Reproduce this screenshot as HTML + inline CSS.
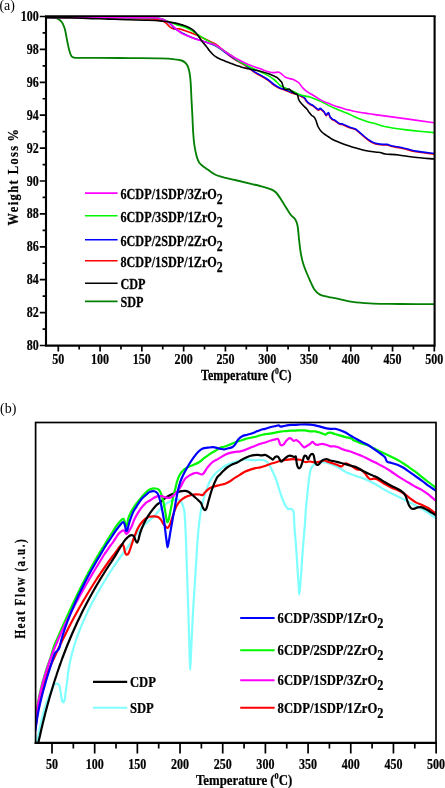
<!DOCTYPE html>
<html><head><meta charset="utf-8"><style>
html,body{margin:0;padding:0;background:#fff;}
body{width:445px;height:788px;overflow:hidden;font-family:"Liberation Serif",serif;}
svg{display:block;will-change:transform;}
</style></head><body>
<svg width="445" height="788" viewBox="0 0 445 788">

<clipPath id="ca"><rect x="46.0" y="16.5" width="388.6" height="329.1"/></clipPath>
<clipPath id="cb"><rect x="35.6" y="422.5" width="400.4" height="320.4"/></clipPath>
<g clip-path="url(#ca)">
<path d="M46.5,17.4 C47.4,17.4 50.5,17.4 52.0,17.5 C53.5,17.6 54.6,17.8 55.8,18.1 C57.0,18.4 58.1,18.8 59.0,19.4 C59.9,20.0 60.6,20.6 61.3,21.5 C62.0,22.4 62.6,23.1 63.2,24.6 C63.9,26.1 64.5,27.7 65.2,30.5 C65.9,33.3 66.6,38.2 67.3,41.5 C68.0,44.8 68.6,48.0 69.3,50.5 C70.0,53.0 70.7,55.1 71.5,56.3 C72.3,57.5 72.6,57.4 74.0,57.6 C75.4,57.9 75.7,57.8 80.0,57.8 C84.3,57.8 91.7,57.8 100.0,57.9 C108.3,58.0 120.0,58.0 130.0,58.1 C140.0,58.2 152.5,58.2 160.0,58.4 C167.5,58.6 171.4,58.9 175.0,59.3 C178.6,59.6 179.8,59.9 181.6,60.5 C183.4,61.1 184.6,62.1 185.7,63.2 C186.8,64.4 187.5,65.5 188.2,67.4 C188.9,69.3 189.5,72.2 189.9,74.8 C190.3,77.4 190.4,79.0 190.7,83.1 C191.0,87.2 191.2,94.1 191.5,99.6 C191.8,105.1 192.1,110.6 192.4,116.1 C192.7,121.6 192.8,127.6 193.2,132.6 C193.5,137.6 193.9,142.0 194.5,145.9 C195.1,149.8 195.8,153.1 196.5,155.8 C197.2,158.5 198.0,160.5 199.0,162.2 C200.0,163.8 200.8,164.4 202.3,165.7 C203.8,167.0 206.0,168.3 208.1,169.8 C210.2,171.3 212.7,173.3 215.0,174.5 C217.3,175.7 218.2,175.8 221.9,176.8 C225.6,177.8 232.4,179.4 237.1,180.5 C241.8,181.6 246.2,182.7 250.0,183.6 C253.8,184.5 256.9,185.2 260.0,186.0 C263.1,186.8 266.2,187.5 268.9,188.6 C271.6,189.7 273.5,190.0 276.0,192.5 C278.5,195.0 281.3,200.0 283.7,203.7 C286.1,207.4 288.6,211.9 290.5,214.5 C292.4,217.1 294.1,217.6 295.3,219.5 C296.5,221.4 297.0,222.6 297.6,226.0 C298.2,229.4 298.6,235.7 299.1,240.0 C299.6,244.3 300.0,248.2 300.6,252.0 C301.2,255.8 301.8,259.0 303.0,263.0 C304.2,267.0 306.1,271.6 308.0,276.0 C309.9,280.4 312.2,286.1 314.2,289.2 C316.2,292.3 317.7,293.3 320.0,294.6 C322.3,295.9 325.3,296.2 328.0,296.8 C330.7,297.4 332.2,297.6 336.3,298.4 C340.4,299.2 346.9,301.0 352.5,301.8 C358.1,302.6 364.6,303.0 370.0,303.3 C375.4,303.6 380.0,303.7 385.0,303.8 C390.0,303.9 391.8,303.9 400.0,304.0 C408.2,304.1 428.3,304.1 434.0,304.1" stroke="#048004" stroke-width="1.85" fill="none" stroke-linejoin="round" stroke-linecap="round"/>
<path d="M46.5,17.5 C52.1,17.6 69.4,17.7 80.0,17.8 C90.6,17.9 101.7,18.2 110.0,18.3 C118.3,18.4 123.7,18.6 130.0,18.7 C136.3,18.8 143.8,18.9 148.0,19.0 C152.2,19.1 152.7,19.0 155.0,19.2 C157.3,19.4 159.9,19.8 161.7,20.4 C163.5,21.0 164.5,21.7 165.8,22.8 C167.2,23.9 168.5,25.8 169.8,26.8 C171.2,27.8 172.3,28.5 173.9,28.9 C175.5,29.2 177.3,28.6 179.3,28.9 C181.3,29.2 183.8,30.1 186.0,30.9 C188.2,31.7 190.8,32.8 192.8,33.6 C194.8,34.4 196.3,34.8 198.1,35.6 C199.9,36.4 201.2,37.2 203.5,38.3 C205.8,39.4 209.5,41.3 211.6,42.3 C213.7,43.3 214.3,43.3 216.0,44.5 C217.7,45.7 219.7,47.3 222.0,49.3 C224.3,51.2 227.6,54.3 230.0,56.2 C232.4,58.1 234.0,59.1 236.5,60.6 C239.0,62.1 242.1,63.4 245.0,65.3 C247.9,67.2 250.2,69.6 253.8,71.9 C257.4,74.2 262.9,76.9 266.3,79.1 C269.7,81.3 271.7,83.5 274.0,85.1 C276.3,86.7 278.2,87.8 280.0,88.6 C281.8,89.4 283.0,89.5 284.5,90.0 C286.0,90.5 287.5,91.2 289.0,91.8 C290.5,92.4 292.0,93.1 293.5,93.6 C295.0,94.1 296.6,94.4 298.0,94.9 C299.4,95.4 300.6,96.2 301.6,96.7 C302.7,97.2 303.6,97.5 304.3,98.2 C305.1,98.9 305.5,100.0 306.1,100.8 C306.7,101.6 307.1,102.3 307.9,103.0 C308.6,103.7 309.7,104.3 310.6,104.8 C311.5,105.3 312.6,105.7 313.3,106.2 C314.0,106.7 314.4,107.1 315.0,107.6 C315.6,108.1 316.4,108.9 317.0,109.3 C317.6,109.7 318.0,110.2 318.5,110.2 C319.0,110.2 319.5,109.0 320.1,109.0 C320.7,109.0 321.4,109.9 322.1,110.4 C322.8,111.0 323.4,111.4 324.1,112.3 C324.8,113.2 325.5,115.3 326.1,115.6 C326.7,115.8 327.2,114.1 327.6,113.8 C328.0,113.5 328.3,112.9 328.7,113.5 C329.1,114.1 329.5,116.5 330.2,117.6 C330.9,118.7 331.9,119.3 332.7,119.9 C333.5,120.5 334.3,120.4 335.2,121.0 C336.1,121.6 337.4,122.8 338.3,123.4 C339.2,124.0 339.6,124.2 340.3,124.4 C341.0,124.6 341.5,124.2 342.3,124.5 C343.1,124.8 344.0,125.3 345.3,125.9 C346.6,126.5 348.8,127.4 350.4,128.0 C352.0,128.6 353.6,128.7 355.0,129.4 C356.4,130.1 357.6,131.3 359.0,132.4 C360.4,133.5 361.6,134.6 363.1,135.9 C364.6,137.2 366.4,138.8 368.1,140.0 C369.8,141.2 371.5,142.2 373.2,143.0 C374.9,143.8 376.6,144.2 378.3,144.5 C380.0,144.8 381.8,144.9 383.3,145.0 C384.8,145.1 386.2,144.8 387.4,145.0 C388.6,145.2 389.1,145.7 390.4,146.0 C391.7,146.3 393.8,146.8 395.4,147.1 C397.0,147.4 398.1,147.5 400.0,147.9 C401.9,148.3 403.9,148.8 406.5,149.4 C409.1,150.0 411.3,150.9 415.9,151.7 C420.5,152.5 431.0,153.7 434.0,154.1" stroke="#ff0000" stroke-width="1.6" fill="none" stroke-linejoin="round" stroke-linecap="round"/>
<path d="M46.5,17.5 C55.4,17.5 82.8,17.6 100.0,17.6 C117.2,17.6 140.0,17.5 150.0,17.6 C160.0,17.8 157.2,17.9 160.0,18.5 C162.8,19.1 165.2,20.3 167.1,21.4 C169.0,22.4 169.8,23.6 171.2,24.8 C172.5,26.1 173.4,27.5 175.2,28.9 C177.0,30.2 179.8,31.7 182.0,32.9 C184.2,34.1 186.5,35.2 188.7,36.2 C190.9,37.2 193.2,38.0 195.4,38.8 C197.7,39.6 199.9,40.3 202.2,41.0 C204.4,41.7 206.8,42.4 208.9,43.2 C211.0,44.0 212.8,44.5 215.0,45.6 C217.2,46.7 219.5,48.3 222.0,50.0 C224.5,51.7 227.6,53.9 230.0,55.6 C232.4,57.3 234.0,58.5 236.5,60.0 C239.0,61.5 242.1,62.8 245.0,64.7 C247.9,66.6 250.2,69.0 253.8,71.3 C257.4,73.6 262.9,76.3 266.3,78.5 C269.7,80.7 271.7,82.9 274.0,84.5 C276.3,86.1 278.2,87.2 280.0,88.0 C281.8,88.8 283.0,88.9 284.5,89.4 C286.0,89.9 287.5,90.6 289.0,91.2 C290.5,91.8 292.0,92.5 293.5,93.0 C295.0,93.5 296.6,93.8 298.0,94.3 C299.4,94.8 300.6,95.5 301.6,96.1 C302.7,96.6 303.6,96.9 304.3,97.6 C305.1,98.3 305.5,99.4 306.1,100.2 C306.7,101.0 307.1,101.7 307.9,102.4 C308.6,103.1 309.7,103.7 310.6,104.2 C311.5,104.7 312.6,105.1 313.3,105.6 C314.0,106.1 314.4,106.5 315.0,107.0 C315.6,107.5 316.4,108.3 317.0,108.7 C317.6,109.1 318.0,109.6 318.5,109.6 C319.0,109.5 319.5,108.4 320.1,108.4 C320.7,108.4 321.4,109.2 322.1,109.8 C322.8,110.3 323.4,110.8 324.1,111.7 C324.8,112.6 325.5,114.8 326.1,115.0 C326.7,115.2 327.2,113.5 327.6,113.2 C328.0,112.9 328.3,112.3 328.7,112.9 C329.1,113.5 329.5,115.9 330.2,117.0 C330.9,118.1 331.9,118.7 332.7,119.3 C333.5,119.9 334.3,119.8 335.2,120.4 C336.1,121.0 337.4,122.2 338.3,122.8 C339.2,123.4 339.6,123.6 340.3,123.8 C341.0,124.0 341.5,123.7 342.3,123.9 C343.1,124.2 344.0,124.7 345.3,125.3 C346.6,125.9 348.8,126.8 350.4,127.4 C352.0,128.0 353.6,128.1 355.0,128.8 C356.4,129.5 357.6,130.7 359.0,131.8 C360.4,132.9 361.6,134.0 363.1,135.3 C364.6,136.6 366.4,138.2 368.1,139.4 C369.8,140.6 371.5,141.7 373.2,142.4 C374.9,143.2 376.6,143.6 378.3,143.9 C380.0,144.2 381.8,144.3 383.3,144.4 C384.8,144.5 386.2,144.2 387.4,144.4 C388.6,144.6 389.1,145.1 390.4,145.4 C391.7,145.8 393.8,146.2 395.4,146.5 C397.0,146.8 398.1,146.9 400.0,147.3 C401.9,147.7 403.9,148.2 406.5,148.8 C409.1,149.4 411.3,150.3 415.9,151.1 C420.5,151.9 431.0,153.1 434.0,153.5" stroke="#0000ff" stroke-width="1.6" fill="none" stroke-linejoin="round" stroke-linecap="round"/>
<path d="M46.5,17.5 C55.4,17.5 82.8,17.6 100.0,17.6 C117.2,17.6 140.8,17.6 150.0,17.6 C159.2,17.6 152.8,17.4 155.0,17.7 C157.2,18.0 160.4,18.5 163.1,19.4 C165.8,20.2 168.5,21.8 171.2,22.8 C173.9,23.8 176.6,24.6 179.3,25.5 C182.0,26.4 184.9,27.1 187.4,28.2 C189.9,29.3 192.1,31.0 194.1,32.2 C196.1,33.4 197.7,34.5 199.5,35.6 C201.3,36.7 202.9,37.8 204.9,39.0 C206.9,40.2 209.8,41.9 211.6,43.0 C213.4,44.1 214.3,44.4 216.0,45.5 C217.7,46.6 219.7,48.0 222.0,49.5 C224.3,51.0 227.1,52.6 230.0,54.6 C232.9,56.6 235.4,59.2 239.4,61.6 C243.4,64.0 249.3,66.6 253.8,68.8 C258.3,71.0 262.9,72.8 266.3,74.6 C269.7,76.4 271.7,77.7 274.0,79.5 C276.3,81.3 278.6,84.1 280.0,85.3 C281.4,86.5 281.6,86.2 282.7,86.7 C283.8,87.2 285.1,87.9 286.3,88.5 C287.5,89.1 288.7,89.8 289.9,90.3 C291.1,90.8 292.1,91.0 293.5,91.6 C294.9,92.2 296.6,93.3 298.0,93.9 C299.4,94.5 300.4,94.8 301.6,95.2 C302.8,95.6 303.9,95.8 305.2,96.1 C306.5,96.4 308.1,96.5 309.7,97.0 C311.3,97.5 313.3,98.3 315.0,99.0 C316.7,99.7 318.4,100.3 320.1,101.1 C321.8,101.9 323.8,102.9 325.1,103.6 C326.4,104.3 326.8,104.4 328.1,105.1 C329.5,105.8 331.5,106.8 333.2,107.6 C334.9,108.4 336.6,109.0 338.3,109.7 C340.0,110.4 341.6,111.0 343.3,111.7 C345.0,112.4 346.7,113.0 348.4,113.7 C350.1,114.5 351.8,115.5 353.4,116.2 C355.0,117.0 355.6,117.3 357.9,118.2 C360.1,119.1 363.8,120.5 366.9,121.4 C370.0,122.4 373.6,123.1 376.5,123.9 C379.4,124.8 379.4,125.5 384.4,126.5 C389.4,127.5 400.2,129.1 406.5,129.9 C412.8,130.7 417.6,131.1 422.2,131.5 C426.8,131.9 432.0,132.4 434.0,132.6" stroke="#00f800" stroke-width="1.6" fill="none" stroke-linejoin="round" stroke-linecap="round"/>
<path d="M46.5,17.5 C55.4,17.5 82.8,17.6 100.0,17.6 C117.2,17.6 140.8,17.6 150.0,17.6 C159.2,17.6 152.8,17.5 155.0,17.8 C157.2,18.1 160.8,18.7 163.1,19.4 C165.3,20.1 166.9,21.1 168.5,22.1 C170.1,23.1 171.2,24.3 172.5,25.5 C173.8,26.7 175.0,28.1 176.6,29.5 C178.2,30.9 180.0,32.5 182.0,33.6 C184.0,34.7 186.5,35.4 188.7,36.3 C190.9,37.2 193.2,38.2 195.4,39.0 C197.7,39.8 199.9,40.3 202.2,41.0 C204.4,41.7 206.8,42.4 208.9,43.0 C211.0,43.6 212.8,43.8 215.0,44.8 C217.2,45.8 220.3,48.1 222.0,49.2 C223.7,50.3 222.7,49.9 225.0,51.4 C227.3,52.9 232.2,56.2 235.8,58.3 C239.4,60.3 242.4,61.9 246.6,63.7 C250.8,65.5 256.8,67.6 261.0,69.1 C265.2,70.6 268.7,72.0 271.7,72.5 C274.7,73.0 277.1,71.8 278.9,72.2 C280.7,72.6 281.3,73.9 282.5,74.8 C283.7,75.7 284.3,76.8 286.1,77.6 C287.9,78.4 291.3,78.8 293.3,79.6 C295.3,80.4 296.9,81.5 298.0,82.2 C299.1,82.9 299.1,83.1 299.8,84.0 C300.6,84.9 301.3,86.3 302.5,87.6 C303.7,88.9 305.5,90.5 307.0,91.6 C308.5,92.7 310.0,93.4 311.5,94.3 C313.0,95.2 314.6,96.1 316.0,97.0 C317.4,97.9 318.6,98.8 320.1,99.6 C321.6,100.4 323.4,101.3 325.1,102.1 C326.8,102.8 328.5,103.4 330.2,104.1 C331.9,104.8 333.5,105.5 335.2,106.1 C336.9,106.7 338.6,107.1 340.3,107.6 C342.0,108.1 343.6,108.8 345.3,109.2 C347.0,109.7 348.7,109.9 350.4,110.3 C352.1,110.7 352.6,111.0 355.4,111.5 C358.1,112.0 363.6,112.9 366.9,113.4 C370.2,113.9 368.4,113.7 375.0,114.6 C381.6,115.5 396.7,117.5 406.5,118.9 C416.3,120.3 429.4,122.2 434.0,122.8" stroke="#ff00ff" stroke-width="1.6" fill="none" stroke-linejoin="round" stroke-linecap="round"/>
<path d="M46.5,17.4 C50.4,17.5 61.1,17.6 70.0,17.8 C78.9,18.0 92.5,18.6 100.0,18.8 C107.5,19.1 110.0,19.1 115.0,19.3 C120.0,19.5 125.0,19.7 130.0,19.8 C135.0,19.9 140.8,20.1 145.0,20.2 C149.2,20.3 152.0,20.3 155.0,20.5 C158.0,20.7 160.4,21.0 163.1,21.3 C165.8,21.6 168.5,21.9 171.2,22.4 C173.9,22.9 176.8,23.5 179.3,24.1 C181.8,24.7 184.0,25.4 186.0,26.2 C188.0,27.0 189.8,27.9 191.4,28.9 C193.0,29.9 194.1,30.8 195.4,32.2 C196.8,33.7 198.2,35.8 199.5,37.6 C200.8,39.4 202.0,41.2 203.2,42.8 C204.4,44.3 205.8,45.6 206.8,46.9 C207.9,48.2 208.3,49.4 209.5,50.8 C210.7,52.2 212.5,54.2 214.0,55.5 C215.5,56.8 217.0,57.5 218.5,58.3 C220.0,59.1 221.5,59.7 223.0,60.3 C224.5,60.9 226.0,61.4 227.5,62.0 C229.0,62.6 230.5,63.2 232.0,63.8 C233.5,64.4 235.0,65.0 236.5,65.5 C238.0,66.0 239.0,66.4 241.0,66.9 C243.0,67.5 245.1,68.0 248.4,68.8 C251.7,69.6 257.4,70.6 261.0,71.5 C264.6,72.4 267.4,73.2 270.0,74.2 C272.6,75.2 274.8,76.3 276.5,77.3 C278.2,78.3 279.1,79.6 280.0,80.4 C280.9,81.2 281.3,81.4 281.8,82.4 C282.3,83.4 282.7,85.4 283.1,86.5 C283.6,87.6 283.8,88.7 284.5,89.2 C285.2,89.7 286.4,89.4 287.2,89.4 C287.9,89.4 288.2,88.7 289.0,89.0 C289.8,89.3 290.8,90.5 291.7,91.2 C292.6,91.9 293.5,92.8 294.4,93.3 C295.3,93.8 296.5,93.9 297.1,94.4 C297.7,95.0 297.7,95.7 298.0,96.6 C298.3,97.5 298.3,98.8 298.9,100.0 C299.5,101.2 300.7,102.7 301.6,103.8 C302.5,104.9 303.4,105.6 304.3,106.5 C305.2,107.4 306.2,108.3 307.0,109.2 C307.8,110.1 308.1,110.9 308.8,111.9 C309.6,112.9 310.6,114.3 311.5,115.2 C312.4,116.1 313.4,116.3 314.2,117.2 C314.9,118.1 315.4,119.0 316.0,120.5 C316.6,122.0 317.1,124.7 318.0,126.5 C318.9,128.3 320.1,130.0 321.1,131.2 C322.1,132.4 322.9,133.0 324.1,133.9 C325.3,134.8 326.8,135.6 328.1,136.5 C329.5,137.4 330.7,138.5 332.2,139.3 C333.7,140.1 335.3,140.7 337.2,141.5 C339.1,142.3 341.3,143.2 343.3,144.0 C345.3,144.8 347.4,145.5 349.4,146.1 C351.3,146.7 352.4,147.1 355.0,147.8 C357.6,148.5 361.7,149.8 365.1,150.5 C368.5,151.2 372.7,151.7 375.2,152.0 C377.7,152.3 378.6,152.2 380.3,152.5 C382.0,152.8 382.2,153.6 385.3,154.0 C388.4,154.4 393.8,154.4 398.6,155.0 C403.4,155.6 408.4,156.6 414.3,157.3 C420.2,158.0 430.7,158.7 434.0,159.0" stroke="#000000" stroke-width="1.6" fill="none" stroke-linejoin="round" stroke-linecap="round"/>
</g>
<path d="M46.0,16.0 V345.6 H434.6 V16.0" stroke="#000" stroke-width="2.1" fill="none" stroke-linejoin="miter"/>
<path d="M45.0,16.1 H435.6" stroke="#000" stroke-width="1.7" fill="none"/>
<path d="M39.8,345.50 H46.0 M42.6,329.05 H46.0 M39.8,312.60 H46.0 M42.6,296.15 H46.0 M39.8,279.70 H46.0 M42.6,263.25 H46.0 M39.8,246.80 H46.0 M42.6,230.35 H46.0 M39.8,213.90 H46.0 M42.6,197.45 H46.0 M39.8,181.00 H46.0 M42.6,164.55 H46.0 M39.8,148.10 H46.0 M42.6,131.65 H46.0 M39.8,115.20 H46.0 M42.6,98.75 H46.0 M39.8,82.30 H46.0 M42.6,65.85 H46.0 M39.8,49.40 H46.0 M42.6,32.95 H46.0 M39.8,16.50 H46.0 M58.30,345.6 V351.6 M79.19,345.6 V349.4 M100.08,345.6 V351.6 M120.97,345.6 V349.4 M141.86,345.6 V351.6 M162.75,345.6 V349.4 M183.64,345.6 V351.6 M204.53,345.6 V349.4 M225.42,345.6 V351.6 M246.31,345.6 V349.4 M267.20,345.6 V351.6 M288.09,345.6 V349.4 M308.98,345.6 V351.6 M329.87,345.6 V349.4 M350.76,345.6 V351.6 M371.65,345.6 V349.4 M392.54,345.6 V351.6 M413.43,345.6 V349.4 M434.32,345.6 V351.6" stroke="#000" stroke-width="1.7" fill="none"/>
<g clip-path="url(#cb)">
<path d="M36.7,743.1 C36.9,741.9 37.7,738.2 38.1,736.0 C38.6,733.8 38.9,732.0 39.4,730.0 C39.8,728.0 40.2,726.0 40.7,724.0 C41.1,722.0 41.6,720.0 42.1,718.0 C42.6,716.0 43.1,714.0 43.6,712.0 C44.2,710.0 44.8,708.0 45.4,706.0 C46.0,704.0 46.7,702.0 47.5,700.0 C48.2,698.0 49.0,696.0 49.9,694.0 C50.7,692.0 52.1,689.4 52.7,688.0 C53.3,686.6 53.2,686.1 53.6,685.5 C54.0,684.9 54.4,684.6 55.0,684.3 C55.6,684.0 56.5,683.3 57.2,683.5 C57.9,683.7 58.8,684.1 59.3,685.3 C59.8,686.5 60.0,688.5 60.4,690.5 C60.8,692.5 61.1,695.7 61.4,697.5 C61.7,699.3 62.0,700.4 62.3,701.2 C62.6,702.0 62.9,702.5 63.3,702.4 C63.6,702.3 64.1,702.0 64.4,700.8 C64.7,699.6 65.0,697.1 65.3,695.0 C65.6,692.9 65.9,690.2 66.2,688.0 C66.5,685.8 66.9,684.0 67.1,682.0 C67.4,680.0 67.5,678.0 67.7,676.0 C67.9,674.0 68.2,672.0 68.5,670.0 C68.8,668.0 69.2,666.0 69.6,664.0 C70.0,662.0 70.4,660.0 70.9,658.0 C71.3,656.0 71.9,654.0 72.4,652.0 C72.9,650.0 73.5,648.0 74.1,646.0 C74.7,644.0 75.4,642.0 76.0,640.0 C76.7,638.0 77.4,636.0 78.2,634.0 C78.9,632.0 79.7,630.0 80.5,628.0 C81.3,626.0 82.1,624.0 83.0,622.0 C83.9,620.0 84.7,618.0 85.7,616.0 C86.6,614.0 87.5,612.0 88.5,610.0 C89.5,608.0 90.5,606.0 91.5,604.0 C92.6,602.0 93.6,600.0 94.7,598.0 C95.8,596.0 96.9,594.0 98.1,592.0 C99.2,590.0 100.4,588.0 101.5,586.0 C102.7,584.0 103.9,582.0 105.2,580.0 C106.4,578.0 107.6,576.0 108.9,574.0 C110.2,572.0 111.5,570.0 112.8,568.0 C114.1,566.0 114.3,565.4 116.8,562.0 C119.2,558.6 124.7,551.1 127.4,547.5 C130.1,543.9 131.1,542.8 132.8,540.3 C134.5,537.8 136.0,534.9 137.5,532.8 C139.0,530.6 140.5,529.0 142.0,527.4 C143.5,525.8 145.0,524.3 146.5,522.9 C148.0,521.5 149.7,520.1 151.0,519.0 C152.3,517.9 153.2,517.4 154.5,516.0 C155.8,514.6 157.5,512.2 159.0,510.6 C160.5,509.0 162.0,507.5 163.5,506.1 C165.0,504.8 166.5,503.5 168.0,502.5 C169.5,501.5 171.0,500.7 172.5,500.2 C174.0,499.7 175.8,499.3 177.0,499.3 C178.2,499.3 179.0,499.4 179.8,500.0 C180.6,500.6 181.4,501.9 182.0,503.2 C182.6,504.5 183.2,506.2 183.6,508.0 C184.0,509.8 184.2,509.1 184.6,514.1 C185.0,519.1 185.5,528.2 185.9,538.3 C186.3,548.4 186.7,562.4 187.1,574.5 C187.5,586.6 187.9,598.6 188.3,610.7 C188.7,622.8 189.1,637.0 189.4,646.9 C189.7,656.8 189.9,670.0 190.2,670.0 C190.5,670.0 190.8,656.8 191.3,646.9 C191.8,637.0 192.4,622.8 193.1,610.7 C193.8,598.6 194.6,586.6 195.4,574.5 C196.2,562.4 197.0,547.0 197.7,538.3 C198.3,529.5 198.8,526.3 199.3,522.0 C199.8,517.7 200.1,515.7 200.6,512.5 C201.1,509.3 201.8,506.1 202.5,503.0 C203.2,499.9 203.9,497.6 205.1,494.0 C206.3,490.4 208.0,484.8 209.7,481.4 C211.4,478.0 213.5,475.5 215.4,473.4 C217.3,471.3 219.7,469.9 221.1,468.8 C222.5,467.7 222.7,467.3 224.0,466.5 C225.3,465.7 227.2,464.8 229.1,464.0 C231.0,463.2 233.3,462.6 235.2,462.0 C237.0,461.4 238.5,460.9 240.2,460.5 C241.9,460.1 243.6,459.6 245.3,459.5 C247.0,459.4 248.6,459.7 250.3,459.8 C252.0,459.9 253.8,460.3 255.4,460.3 C257.1,460.3 258.8,459.8 260.2,459.8 C261.6,459.8 262.9,459.8 264.0,460.2 C265.1,460.6 266.1,461.0 267.1,462.0 C268.1,463.0 269.1,464.5 270.1,466.3 C271.1,468.1 272.1,470.4 273.1,472.6 C274.1,474.8 275.2,476.9 276.2,479.7 C277.2,482.4 278.1,486.0 279.1,489.1 C280.1,492.2 281.2,495.6 282.2,498.3 C283.2,501.0 284.2,503.4 285.2,505.2 C286.2,507.0 287.3,508.4 288.3,509.0 C289.3,509.6 290.4,508.5 291.3,509.0 C292.2,509.5 293.1,509.2 293.6,512.0 C294.1,514.8 294.1,520.9 294.4,525.7 C294.7,530.5 295.2,535.9 295.6,541.0 C296.0,546.1 296.4,551.1 296.7,556.2 C297.0,561.3 297.4,566.4 297.7,571.5 C298.0,576.6 298.4,582.9 298.7,586.7 C299.0,590.6 299.1,594.6 299.3,594.6 C299.6,594.6 299.9,590.6 300.2,586.7 C300.5,582.9 300.9,576.6 301.3,571.5 C301.7,566.4 301.9,561.3 302.3,556.2 C302.7,551.1 303.1,546.1 303.5,541.0 C303.9,535.9 304.4,530.8 304.8,525.7 C305.2,520.6 305.4,515.6 305.8,510.5 C306.2,505.4 306.8,499.9 307.3,495.2 C307.8,490.4 308.2,485.8 308.6,482.0 C309.1,478.2 309.6,474.8 310.0,472.5 C310.4,470.2 310.6,469.7 311.1,468.5 C311.6,467.3 312.2,466.4 313.1,465.5 C314.0,464.6 315.0,463.6 316.2,463.0 C317.4,462.4 318.7,462.1 320.2,462.0 C321.7,461.9 323.6,462.2 325.3,462.5 C327.0,462.8 328.6,463.4 330.3,464.0 C332.0,464.6 333.8,465.2 335.4,466.0 C337.0,466.8 338.5,467.5 340.2,468.5 C341.9,469.5 343.8,470.9 345.6,471.9 C347.4,472.8 349.3,473.4 351.2,474.2 C353.1,474.9 355.0,475.8 356.9,476.4 C358.8,477.0 360.6,477.4 362.5,478.1 C364.4,478.8 366.2,479.5 368.1,480.4 C370.0,481.2 371.8,482.2 373.7,483.2 C375.6,484.2 377.4,485.4 379.3,486.5 C381.2,487.6 383.0,488.9 385.0,490.0 C387.0,491.1 389.1,492.2 391.2,493.2 C393.3,494.2 395.3,495.2 397.4,496.2 C399.4,497.2 401.4,498.3 403.5,499.3 C405.6,500.3 407.6,501.4 409.7,502.4 C411.8,503.4 413.8,504.4 415.9,505.5 C418.0,506.6 420.0,508.0 422.1,509.2 C424.2,510.4 426.2,511.4 428.3,512.9 C430.4,514.4 433.6,516.9 435.0,517.9 C436.4,518.9 436.7,518.8 437.0,519.0" stroke="#80ffff" stroke-width="2.2" fill="none" stroke-linejoin="round" stroke-linecap="round"/>
<path d="M35.6,727.0 C35.8,725.8 36.2,722.8 36.6,720.0 C37.0,717.2 37.4,713.3 38.0,710.0 C38.6,706.7 39.3,703.3 40.0,700.0 C40.7,696.7 41.5,693.3 42.3,690.0 C43.1,686.7 44.0,682.8 44.8,680.0 C45.5,677.2 46.2,674.7 46.8,673.0 C47.4,671.3 47.9,671.5 48.7,670.0 C49.4,668.5 50.4,666.0 51.3,664.0 C52.2,662.0 53.1,660.0 54.1,658.0 C55.0,656.0 55.9,654.0 56.8,652.0 C57.8,650.0 58.7,648.0 59.6,646.0 C60.6,644.0 61.6,642.0 62.5,640.0 C63.5,638.0 64.5,636.0 65.5,634.0 C66.5,632.0 67.5,630.0 68.5,628.0 C69.5,626.0 70.6,624.0 71.6,622.0 C72.7,620.0 73.7,618.0 74.8,616.0 C75.9,614.0 77.0,612.0 78.1,610.0 C79.2,608.0 80.3,606.0 81.5,604.0 C82.6,602.0 83.8,600.0 85.0,598.0 C86.2,596.0 87.3,594.0 88.6,592.0 C89.8,590.0 91.0,588.0 92.3,586.0 C93.5,584.0 94.8,582.0 96.1,580.0 C97.4,578.0 98.7,576.0 100.1,574.0 C101.4,572.0 102.8,570.0 104.2,568.0 C105.6,566.0 107.0,564.0 108.4,562.0 C109.8,560.0 111.3,558.0 112.8,556.0 C114.3,554.0 116.4,551.3 117.3,550.0 C118.3,548.7 117.6,549.4 118.4,548.4 C119.2,547.4 121.1,544.6 122.0,544.3 C122.9,544.0 123.3,545.5 123.8,546.6 C124.2,547.7 124.3,549.8 124.7,551.1 C125.1,552.4 125.4,554.0 126.0,554.5 C126.6,555.0 127.6,554.7 128.3,553.8 C129.0,552.9 129.5,550.9 130.1,549.3 C130.7,547.6 131.3,545.7 131.9,543.9 C132.5,542.1 133.1,540.1 133.7,538.5 C134.2,536.9 134.6,535.9 135.2,534.5 C135.8,533.1 136.2,531.7 137.0,530.0 C137.8,528.3 138.9,526.1 140.2,524.3 C141.5,522.5 143.2,520.5 144.7,519.3 C146.2,518.0 147.6,517.3 149.2,516.8 C150.8,516.3 153.0,516.4 154.5,516.4 C156.0,516.4 157.0,516.4 158.1,516.9 C159.2,517.4 159.9,518.4 160.8,519.6 C161.7,520.8 162.6,522.7 163.5,524.0 C164.4,525.3 165.5,526.6 166.2,527.2 C166.9,527.8 167.2,528.2 167.8,527.8 C168.4,527.4 169.1,526.4 169.8,524.9 C170.5,523.4 171.2,520.9 172.0,518.7 C172.8,516.5 173.5,513.8 174.3,511.5 C175.1,509.2 175.9,507.0 177.0,505.2 C178.1,503.4 179.2,501.8 180.6,500.5 C181.9,499.2 183.7,498.0 185.1,497.2 C186.5,496.4 187.7,496.1 189.1,495.7 C190.5,495.2 192.0,494.7 193.7,494.5 C195.4,494.3 197.9,494.4 199.4,494.5 C200.9,494.6 201.9,495.5 202.8,495.1 C203.8,494.7 203.9,493.4 205.1,492.2 C206.2,491.0 208.2,489.1 209.7,488.2 C211.2,487.2 212.6,487.0 214.3,486.5 C216.0,486.0 218.2,485.5 220.0,485.0 C221.8,484.5 223.4,484.3 225.1,483.7 C226.8,483.1 228.4,482.2 230.1,481.2 C231.8,480.2 233.5,478.8 235.2,477.7 C236.9,476.6 238.5,475.6 240.2,474.6 C241.9,473.6 243.6,472.4 245.3,471.6 C247.0,470.8 248.6,470.2 250.3,469.6 C252.0,469.0 253.8,468.5 255.4,468.1 C257.1,467.7 258.6,467.8 260.2,467.4 C261.8,467.0 263.5,466.6 265.1,466.0 C266.8,465.4 268.4,464.6 270.1,464.0 C271.8,463.4 273.5,463.0 275.2,462.5 C276.9,462.0 278.5,461.4 280.2,461.0 C281.9,460.6 283.6,460.3 285.3,460.0 C287.0,459.7 288.6,459.4 290.3,459.3 C292.0,459.2 293.8,459.2 295.4,459.3 C297.0,459.4 298.6,459.4 300.2,459.8 C301.8,460.2 303.5,461.7 305.1,462.0 C306.8,462.3 308.4,461.4 310.1,461.5 C311.8,461.6 313.5,462.5 315.2,462.5 C316.9,462.5 318.7,461.8 320.2,461.5 C321.7,461.2 322.9,460.4 324.3,460.5 C325.7,460.6 326.8,461.5 328.3,462.0 C329.8,462.5 331.7,462.9 333.4,463.5 C335.1,464.1 337.0,465.0 338.4,465.5 C339.8,466.0 340.6,466.7 341.5,466.5 C342.4,466.3 343.0,464.8 343.9,464.3 C344.8,463.8 345.5,463.2 346.7,463.5 C347.9,463.8 349.9,465.1 351.2,465.8 C352.5,466.6 353.5,467.4 354.6,468.0 C355.7,468.6 356.9,469.4 358.0,469.7 C359.1,470.0 360.2,469.1 361.3,469.7 C362.4,470.3 363.6,471.8 364.7,473.1 C365.8,474.4 367.2,476.6 368.1,477.6 C369.0,478.6 369.4,479.0 370.3,479.2 C371.2,479.4 372.6,478.7 373.7,478.7 C374.8,478.7 375.8,478.6 377.1,479.2 C378.4,479.8 380.3,481.2 381.6,482.0 C382.9,482.8 383.4,483.2 385.0,484.1 C386.6,485.0 389.1,486.6 391.2,487.6 C393.3,488.6 395.3,489.2 397.4,490.1 C399.4,491.0 401.4,491.9 403.5,493.2 C405.6,494.5 407.6,496.6 409.7,498.1 C411.8,499.6 413.8,501.3 415.9,502.4 C418.0,503.5 420.0,504.0 422.1,504.9 C424.2,505.8 426.2,506.7 428.3,508.0 C430.4,509.3 433.6,511.9 435.0,512.9 C436.4,513.9 436.7,513.8 437.0,514.0" stroke="#ff0000" stroke-width="2.2" fill="none" stroke-linejoin="round" stroke-linecap="round"/>
<path d="M38.9,743.5 C38.8,743.2 38.4,743.2 38.5,742.0 C38.7,740.8 39.4,738.0 39.9,736.0 C40.3,734.0 40.8,732.0 41.2,730.0 C41.7,728.0 42.2,726.0 42.6,724.0 C43.1,722.0 43.6,720.0 44.1,718.0 C44.6,716.0 45.1,714.0 45.6,712.0 C46.2,710.0 46.7,708.0 47.2,706.0 C47.8,704.0 48.3,702.0 48.9,700.0 C49.4,698.0 50.0,696.0 50.6,694.0 C51.2,692.0 51.8,690.0 52.4,688.0 C53.0,686.0 53.6,684.0 54.2,682.0 C54.9,680.0 55.5,678.0 56.2,676.0 C56.8,674.0 57.5,672.0 58.2,670.0 C58.9,668.0 59.5,666.0 60.3,664.0 C61.0,662.0 61.7,660.0 62.4,658.0 C63.2,656.0 63.9,654.0 64.7,652.0 C65.5,650.0 66.2,648.0 67.0,646.0 C67.8,644.0 68.7,642.0 69.5,640.0 C70.3,638.0 71.2,636.0 72.0,634.0 C72.9,632.0 73.8,630.0 74.7,628.0 C75.6,626.0 76.5,624.0 77.4,622.0 C78.4,620.0 79.3,618.0 80.3,616.0 C81.2,614.0 82.2,612.0 83.2,610.0 C84.2,608.0 85.3,606.0 86.3,604.0 C87.4,602.0 88.4,600.0 89.5,598.0 C90.6,596.0 91.7,594.0 92.8,592.0 C93.9,590.0 95.1,588.0 96.2,586.0 C97.4,584.0 98.6,582.0 99.8,580.0 C101.0,578.0 102.2,576.0 103.5,574.0 C104.7,572.0 106.0,570.0 107.3,568.0 C108.6,566.0 110.0,563.9 111.3,562.0 C112.5,560.1 113.3,558.9 114.8,556.5 C116.3,554.1 118.5,550.2 120.2,547.5 C121.9,544.8 123.4,542.0 124.7,540.3 C126.0,538.5 127.1,537.8 128.0,537.0 C128.9,536.2 129.5,535.7 130.3,535.4 C131.1,535.1 132.3,535.1 133.0,535.4 C133.7,535.7 133.9,536.3 134.3,537.2 C134.8,538.1 135.2,539.9 135.7,540.8 C136.1,541.7 136.6,542.7 137.0,542.6 C137.4,542.5 137.9,541.6 138.4,540.0 C138.9,538.4 139.3,535.5 140.2,532.8 C141.1,530.1 142.5,526.6 143.8,523.8 C145.2,520.9 146.8,518.1 148.3,515.7 C149.8,513.3 151.4,511.2 152.8,509.4 C154.2,507.6 155.5,506.0 156.5,505.0 C157.5,504.0 157.8,504.1 159.0,503.2 C160.2,502.2 162.0,500.5 163.5,499.3 C165.0,498.1 166.5,497.1 168.0,496.2 C169.5,495.3 171.0,494.6 172.5,493.9 C174.0,493.2 175.5,492.6 177.0,492.1 C178.5,491.6 180.1,491.3 181.5,491.1 C182.9,490.9 184.2,490.7 185.5,490.9 C186.8,491.1 187.7,491.3 189.1,492.2 C190.5,493.1 192.2,494.9 193.7,496.2 C195.2,497.5 197.1,499.0 198.3,500.2 C199.5,501.4 200.3,501.9 201.1,503.1 C201.8,504.3 202.2,506.4 202.8,507.5 C203.4,508.6 204.0,509.8 204.6,510.0 C205.2,510.2 205.6,510.3 206.3,508.8 C207.0,507.3 207.7,504.0 208.6,500.8 C209.5,497.6 210.7,493.1 212.0,489.4 C213.3,485.7 215.2,481.0 216.5,478.5 C217.8,476.0 218.9,475.7 220.0,474.5 C221.1,473.3 221.8,472.5 223.0,471.3 C224.2,470.1 225.6,468.6 227.1,467.5 C228.6,466.4 230.4,465.3 232.1,464.5 C233.8,463.7 235.5,463.3 237.2,462.5 C238.9,461.7 240.5,460.4 242.2,459.5 C243.9,458.6 245.6,457.6 247.3,456.9 C249.0,456.2 250.7,455.7 252.4,455.4 C254.1,455.1 255.9,454.9 257.4,454.9 C258.9,454.9 260.2,455.4 261.5,455.4 C262.8,455.4 264.0,454.7 265.1,454.9 C266.2,455.1 267.1,455.8 268.1,456.4 C269.1,457.0 270.3,457.9 271.1,458.4 C271.9,458.9 272.4,459.8 273.1,459.5 C273.8,459.2 274.4,457.3 275.2,456.9 C276.0,456.5 277.4,456.3 278.2,456.9 C279.0,457.5 279.6,459.7 280.2,460.5 C280.8,461.3 281.0,461.8 281.7,461.5 C282.4,461.2 283.2,459.9 284.3,459.0 C285.4,458.1 287.1,456.4 288.3,455.9 C289.5,455.4 290.3,455.7 291.3,455.9 C292.3,456.1 293.6,456.8 294.4,456.9 C295.2,457.0 295.5,455.6 295.9,456.8 C296.3,458.0 296.5,462.4 296.9,464.3 C297.3,466.2 297.8,467.5 298.4,468.0 C299.0,468.5 299.8,468.4 300.4,467.5 C301.0,466.6 301.7,464.3 302.3,462.5 C302.9,460.7 303.4,457.7 304.0,456.6 C304.6,455.5 305.4,455.4 306.1,455.9 C306.8,456.4 307.4,459.6 308.1,459.5 C308.8,459.4 309.4,456.3 310.1,455.4 C310.8,454.5 311.5,453.9 312.1,453.9 C312.7,453.9 313.3,454.3 313.7,455.4 C314.1,456.5 314.4,459.1 314.7,460.5 C315.0,461.9 315.3,462.8 315.7,463.5 C316.1,464.2 316.6,464.9 317.2,465.0 C317.8,465.1 318.4,464.8 319.2,464.0 C320.0,463.2 321.0,461.3 322.2,460.5 C323.4,459.7 324.9,459.0 326.3,459.0 C327.7,459.0 328.8,460.1 330.3,460.5 C331.8,460.9 333.8,461.1 335.4,461.5 C337.0,461.9 338.5,462.3 340.2,462.7 C341.9,463.1 343.8,463.6 345.6,464.1 C347.4,464.6 349.3,465.2 351.2,465.8 C353.1,466.4 355.0,466.6 356.9,467.4 C358.8,468.2 360.6,469.8 362.5,470.8 C364.4,471.8 366.2,472.8 368.1,473.6 C370.0,474.5 371.8,475.0 373.7,475.9 C375.6,476.8 377.4,477.6 379.3,478.7 C381.2,479.8 383.0,481.1 385.0,482.3 C387.0,483.5 389.1,484.6 391.2,485.7 C393.3,486.8 395.5,487.8 397.4,488.8 C399.2,489.8 401.0,490.8 402.3,491.9 C403.6,493.0 404.6,494.2 405.4,495.6 C406.2,497.1 406.6,499.0 407.2,500.6 C407.8,502.2 408.4,504.2 409.1,505.5 C409.8,506.8 410.7,508.1 411.6,508.6 C412.5,509.1 413.7,508.8 414.7,508.6 C415.7,508.4 416.6,507.6 417.8,507.4 C419.0,507.2 420.6,507.0 422.1,507.4 C423.6,507.8 425.4,508.9 427.0,509.8 C428.6,510.7 430.7,512.1 432.0,512.9 C433.3,513.7 434.2,514.3 435.0,514.8 C435.8,515.3 436.7,515.8 437.0,516.0" stroke="#000000" stroke-width="2.2" fill="none" stroke-linejoin="round" stroke-linecap="round"/>
<path d="M35.8,718.0 C35.9,717.0 36.2,714.0 36.5,712.0 C36.8,710.0 37.1,708.0 37.4,706.0 C37.7,704.0 38.1,702.0 38.5,700.0 C38.8,698.0 39.3,696.0 39.7,694.0 C40.1,692.0 40.6,690.0 41.1,688.0 C41.6,686.0 42.1,684.0 42.6,682.0 C43.2,680.0 43.8,678.0 44.4,676.0 C45.0,674.0 45.6,672.0 46.2,670.0 C46.9,668.0 47.5,666.0 48.2,664.0 C48.9,662.0 49.4,661.0 50.4,658.0 C51.3,655.0 53.0,649.0 54.1,646.0 C55.1,643.0 55.8,642.0 56.7,640.0 C57.6,638.0 58.4,636.0 59.3,634.0 C60.2,632.0 61.1,630.0 61.9,628.0 C62.8,626.0 63.7,624.0 64.6,622.0 C65.5,620.0 66.4,618.0 67.3,616.0 C68.2,614.0 69.1,612.0 70.0,610.0 C71.0,608.0 71.9,606.0 72.8,604.0 C73.8,602.0 74.7,600.0 75.7,598.0 C76.6,596.0 77.6,594.0 78.5,592.0 C79.5,590.0 80.5,588.0 81.5,586.0 C82.5,584.0 83.5,582.0 84.6,580.0 C85.6,578.0 86.6,576.0 87.7,574.0 C88.7,572.0 89.8,570.0 90.9,568.0 C92.0,566.0 93.1,564.0 94.2,562.0 C95.3,560.0 96.5,558.0 97.6,556.0 C98.8,554.0 100.0,551.8 101.2,550.0 C102.3,548.2 103.2,547.1 104.5,545.0 C105.8,542.9 107.5,539.8 109.0,537.5 C110.5,535.2 112.1,532.7 113.2,531.0 C114.3,529.3 114.5,528.7 115.5,527.2 C116.5,525.7 118.3,523.4 119.5,522.0 C120.7,520.6 121.8,519.3 122.6,518.9 C123.3,518.5 123.5,518.9 124.0,519.8 C124.5,520.7 124.9,523.2 125.3,524.3 C125.7,525.4 125.9,526.5 126.3,526.3 C126.7,526.1 127.0,524.5 127.4,523.0 C127.8,521.5 127.8,519.6 128.7,517.2 C129.6,514.8 131.5,511.0 133.0,508.5 C134.5,506.0 136.0,504.1 137.5,502.2 C139.0,500.2 140.6,498.5 142.0,496.8 C143.4,495.1 144.7,493.4 146.0,492.2 C147.3,490.9 148.4,489.9 150.0,489.3 C151.6,488.7 153.9,488.4 155.4,488.5 C156.9,488.6 157.9,488.8 159.0,489.9 C160.1,491.0 160.9,492.9 161.7,495.3 C162.5,497.7 163.2,501.1 163.9,504.3 C164.6,507.5 165.2,511.3 165.7,514.2 C166.2,517.2 166.6,521.2 167.1,522.0 C167.6,522.8 168.3,520.8 168.9,518.7 C169.5,516.7 170.0,513.1 170.7,509.7 C171.4,506.2 172.2,501.4 172.9,498.0 C173.7,494.6 174.5,491.8 175.2,489.0 C175.9,486.2 176.4,483.4 177.2,481.0 C178.0,478.6 178.8,476.3 180.0,474.3 C181.2,472.3 183.1,470.3 184.6,469.0 C186.1,467.7 187.6,467.2 189.1,466.5 C190.6,465.8 192.0,465.6 193.7,464.8 C195.4,464.1 197.5,463.2 199.4,462.0 C201.3,460.8 203.2,458.8 205.1,457.4 C207.0,456.0 208.7,454.7 210.8,453.4 C212.9,452.1 216.1,450.4 217.7,449.4 C219.3,448.4 219.4,448.0 220.5,447.6 C221.6,447.2 222.7,447.2 224.0,446.8 C225.3,446.4 226.6,445.9 228.1,445.3 C229.6,444.7 231.4,444.0 233.1,443.3 C234.8,442.6 236.5,441.9 238.2,441.3 C239.9,440.7 241.6,440.2 243.3,439.7 C245.0,439.2 246.6,438.6 248.3,438.2 C250.0,437.8 251.9,437.5 253.4,437.2 C254.9,436.9 255.9,436.6 257.4,436.2 C258.9,435.8 261.1,435.1 262.5,434.7 C263.9,434.3 264.7,434.2 266.0,434.0 C267.3,433.8 268.6,433.9 270.1,433.7 C271.6,433.5 273.5,433.0 275.2,432.7 C276.9,432.4 278.5,432.0 280.2,431.7 C281.9,431.4 283.6,431.3 285.3,431.1 C287.0,430.9 288.6,430.7 290.3,430.6 C292.0,430.5 293.7,430.7 295.4,430.6 C297.1,430.6 298.8,430.3 300.4,430.3 C302.0,430.3 303.5,430.2 305.1,430.4 C306.7,430.6 308.4,431.1 310.1,431.3 C311.8,431.5 313.5,431.1 315.2,431.3 C316.9,431.5 318.5,432.1 320.2,432.7 C321.9,433.3 324.1,434.6 325.3,434.7 C326.5,434.8 326.5,433.5 327.3,433.2 C328.1,432.9 329.0,432.5 330.3,432.7 C331.6,432.9 333.7,433.7 335.4,434.2 C337.1,434.7 338.7,435.1 340.4,435.6 C342.1,436.1 343.8,436.6 345.6,437.1 C347.4,437.6 349.9,437.9 351.2,438.4 C352.5,438.9 352.6,439.8 353.5,440.3 C354.4,440.8 355.4,441.0 356.9,441.6 C358.4,442.2 360.6,443.2 362.5,443.8 C364.4,444.4 366.2,444.8 368.1,445.5 C370.0,446.2 371.8,447.4 373.7,448.3 C375.6,449.2 377.4,450.2 379.3,451.1 C381.2,452.0 383.0,452.9 385.0,453.8 C387.0,454.7 389.1,455.7 391.2,456.7 C393.3,457.7 395.3,458.7 397.4,459.8 C399.4,460.9 401.4,462.2 403.5,463.5 C405.6,464.8 407.6,466.4 409.7,467.8 C411.8,469.2 413.8,470.6 415.9,472.1 C418.0,473.7 420.0,475.5 422.1,477.1 C424.2,478.8 426.2,480.4 428.3,482.0 C430.4,483.6 433.6,486.0 435.0,487.0 C436.4,488.0 436.7,488.0 437.0,488.2" stroke="#00f800" stroke-width="2.2" fill="none" stroke-linejoin="round" stroke-linecap="round"/>
<path d="M35.4,723.5 C35.5,723.2 35.6,723.2 35.8,722.0 C36.0,720.8 36.2,718.0 36.4,716.0 C36.6,714.0 36.9,712.0 37.2,710.0 C37.5,708.0 37.8,706.0 38.1,704.0 C38.5,702.0 38.8,700.0 39.2,698.0 C39.7,696.0 40.1,694.0 40.5,692.0 C41.0,690.0 41.5,688.0 42.0,686.0 C42.5,684.0 43.0,682.0 43.6,680.0 C44.2,678.0 44.8,676.0 45.4,674.0 C46.0,672.0 46.6,670.0 47.3,668.0 C47.9,666.0 48.6,664.0 49.3,662.0 C50.0,660.0 50.8,658.0 51.5,656.0 C52.3,654.0 53.0,652.0 53.8,650.0 C54.6,648.0 55.4,646.0 56.3,644.0 C57.1,642.0 58.0,640.0 58.8,638.0 C59.7,636.0 60.6,634.0 61.5,632.0 C62.4,630.0 63.4,628.0 64.3,626.0 C65.3,624.0 66.2,622.0 67.2,620.0 C68.2,618.0 69.2,616.0 70.2,614.0 C71.2,612.0 72.2,610.0 73.3,608.0 C74.3,606.0 75.4,604.0 76.5,602.0 C77.6,600.0 78.6,598.0 79.7,596.0 C80.8,594.0 82.0,592.0 83.1,590.0 C84.2,588.0 85.4,586.0 86.5,584.0 C87.7,582.0 88.8,580.0 90.0,578.0 C91.2,576.0 92.4,574.0 93.5,572.0 C94.7,570.0 96.0,568.0 97.2,566.0 C98.4,564.0 99.6,562.0 100.8,560.0 C102.1,558.0 102.9,556.4 104.5,554.0 C106.2,551.6 109.0,547.6 110.5,545.5 C112.0,543.4 112.4,543.1 113.5,541.5 C114.6,539.9 116.0,537.5 117.0,536.0 C118.0,534.5 118.8,533.5 119.8,532.6 C120.8,531.7 122.2,530.5 123.1,530.4 C123.9,530.2 124.4,531.1 124.9,531.7 C125.4,532.3 125.7,533.6 126.2,533.8 C126.7,533.9 127.2,533.7 128.0,532.6 C128.8,531.5 130.1,529.7 131.2,527.4 C132.3,525.1 133.3,521.6 134.8,518.6 C136.3,515.6 138.4,512.0 140.2,509.4 C142.0,506.8 144.0,504.6 145.6,503.1 C147.2,501.6 148.7,501.4 150.0,500.5 C151.3,499.6 152.4,498.7 153.6,498.0 C154.8,497.3 155.8,496.7 157.2,496.4 C158.5,496.1 160.2,496.0 161.7,496.2 C163.2,496.4 164.8,497.2 166.2,497.5 C167.5,497.8 168.6,498.2 169.8,497.9 C171.0,497.6 172.2,496.7 173.4,495.7 C174.6,494.7 175.8,493.2 177.0,491.7 C178.2,490.2 179.3,488.9 180.6,486.8 C181.9,484.7 183.2,481.2 184.6,479.3 C186.0,477.4 187.6,476.7 189.1,475.7 C190.6,474.7 192.4,473.9 193.7,473.4 C195.0,472.9 195.8,472.6 197.1,472.8 C198.4,473.0 200.5,474.5 201.7,474.5 C202.8,474.5 203.1,473.9 204.0,472.8 C204.9,471.7 206.1,469.4 207.4,467.7 C208.7,466.0 210.3,463.9 212.0,462.5 C213.7,461.1 216.0,460.1 217.7,459.1 C219.4,458.1 220.8,457.3 222.0,456.6 C223.2,455.9 223.8,455.4 225.1,454.8 C226.4,454.2 228.4,453.4 230.1,452.9 C231.8,452.4 233.5,452.1 235.2,451.9 C236.9,451.6 238.5,451.7 240.2,451.4 C241.9,451.1 243.6,450.5 245.3,449.9 C247.0,449.3 248.6,448.5 250.3,447.8 C252.0,447.1 253.7,446.5 255.4,445.8 C257.1,445.1 258.8,444.4 260.4,443.8 C262.0,443.2 263.5,443.0 265.1,442.5 C266.7,442.0 268.4,441.3 270.1,440.8 C271.8,440.3 273.9,439.7 275.2,439.4 C276.5,439.1 277.4,438.5 278.2,439.2 C278.9,439.9 279.2,442.3 279.7,443.3 C280.2,444.3 280.5,445.1 281.2,445.3 C281.9,445.5 282.9,445.1 283.8,444.3 C284.7,443.6 285.4,441.8 286.3,440.8 C287.2,439.8 288.5,438.6 289.3,438.2 C290.1,437.8 290.6,438.3 291.3,438.7 C292.0,439.1 292.5,440.6 293.4,440.8 C294.2,441.1 295.4,439.9 296.4,440.2 C297.4,440.4 298.5,441.5 299.4,442.3 C300.3,443.1 300.9,444.2 301.7,445.0 C302.5,445.8 303.1,447.2 304.0,447.3 C304.9,447.4 306.1,446.4 307.1,445.8 C308.1,445.2 309.2,444.5 310.1,443.8 C311.0,443.1 311.8,441.7 312.6,441.8 C313.5,441.9 314.3,443.8 315.2,444.3 C316.1,444.8 317.0,444.9 318.2,444.8 C319.4,444.7 320.8,443.8 322.2,443.8 C323.6,443.8 324.9,444.4 326.3,444.8 C327.7,445.2 329.0,446.1 330.3,446.3 C331.6,446.6 333.0,446.1 334.4,446.3 C335.8,446.5 337.0,446.8 338.4,447.3 C339.8,447.8 341.3,448.8 342.5,449.3 C343.7,449.8 344.2,449.8 345.6,450.2 C347.1,450.6 349.3,451.1 351.2,451.7 C353.1,452.3 355.0,453.2 356.9,454.0 C358.8,454.8 360.6,455.4 362.5,456.2 C364.4,457.0 366.2,458.1 368.1,459.0 C370.0,459.9 371.8,460.9 373.7,461.8 C375.6,462.7 377.4,463.6 379.3,464.6 C381.2,465.6 383.0,466.5 385.0,467.6 C387.0,468.8 389.1,470.1 391.2,471.5 C393.3,472.9 395.3,474.4 397.4,475.8 C399.4,477.2 401.4,478.4 403.5,479.6 C405.6,480.9 407.6,482.1 409.7,483.3 C411.8,484.5 413.8,485.9 415.9,487.0 C418.0,488.1 420.0,488.9 422.1,490.1 C424.2,491.3 426.2,492.8 428.3,494.4 C430.4,496.0 433.6,498.8 435.0,500.0 C436.4,501.2 436.7,501.2 437.0,501.5" stroke="#ff00ff" stroke-width="2.2" fill="none" stroke-linejoin="round" stroke-linecap="round"/>
<path d="M35.4,730.5 C35.4,730.3 35.4,730.5 35.6,729.1 C35.8,727.7 36.3,724.2 36.6,722.0 C36.9,719.8 37.2,718.0 37.5,716.0 C37.9,714.0 38.2,712.0 38.6,710.0 C39.1,708.0 39.5,706.0 39.9,704.0 C40.4,702.0 40.9,700.0 41.4,698.0 C41.9,696.0 42.4,694.0 42.9,692.0 C43.5,690.0 44.0,688.0 44.6,686.0 C45.2,684.0 45.7,682.0 46.3,680.0 C46.9,678.0 47.5,676.0 48.1,674.0 C48.8,672.0 49.4,670.0 50.0,668.0 C50.6,666.0 51.2,664.2 51.9,662.0 C52.6,659.8 53.6,656.6 54.2,655.0 C54.8,653.4 55.1,653.1 55.7,652.3 C56.3,651.5 57.1,651.3 57.8,650.4 C58.4,649.5 59.1,648.2 59.6,647.0 C60.1,645.8 60.2,644.5 60.6,643.0 C61.0,641.5 61.3,639.8 61.9,638.0 C62.4,636.2 63.1,634.0 63.8,632.0 C64.4,630.0 65.1,628.0 65.8,626.0 C66.6,624.0 67.3,622.0 68.0,620.0 C68.8,618.0 69.6,616.0 70.4,614.0 C71.2,612.0 72.0,610.0 72.9,608.0 C73.7,606.0 74.6,604.0 75.5,602.0 C76.4,600.0 77.3,598.0 78.2,596.0 C79.2,594.0 80.1,592.0 81.1,590.0 C82.1,588.0 83.1,586.0 84.1,584.0 C85.1,582.0 86.1,580.0 87.2,578.0 C88.2,576.0 89.3,574.0 90.4,572.0 C91.5,570.0 92.6,568.0 93.8,566.0 C94.9,564.0 96.1,562.0 97.2,560.0 C98.4,558.0 99.3,556.6 100.8,554.0 C102.3,551.4 104.8,547.2 106.5,544.5 C108.2,541.8 109.7,540.0 111.0,538.0 C112.3,536.0 113.1,534.5 114.5,532.5 C115.9,530.5 118.1,527.5 119.5,525.8 C120.9,524.0 122.2,522.1 123.1,522.0 C124.0,521.9 124.4,523.9 124.9,525.4 C125.4,526.9 125.8,530.2 126.2,530.8 C126.7,531.4 127.1,530.6 127.6,529.2 C128.1,527.8 128.5,525.0 129.4,522.2 C130.3,519.4 131.7,515.3 133.0,512.4 C134.3,509.5 136.0,507.2 137.5,504.9 C139.0,502.6 140.5,500.3 142.0,498.6 C143.5,496.9 145.2,495.6 146.5,494.5 C147.8,493.4 148.7,492.4 150.0,491.8 C151.3,491.2 153.2,490.9 154.5,491.2 C155.8,491.5 156.7,492.1 157.6,493.5 C158.5,494.9 159.2,497.1 159.9,499.8 C160.7,502.5 161.4,506.4 162.1,509.7 C162.8,513.0 163.3,515.9 163.9,519.6 C164.5,523.3 165.0,528.5 165.4,531.9 C165.8,535.3 166.1,537.7 166.5,540.3 C166.9,542.9 167.2,547.3 167.6,547.3 C168.0,547.3 168.5,542.9 169.0,540.3 C169.5,537.7 169.9,534.7 170.4,531.9 C170.9,529.1 171.4,526.0 171.9,523.4 C172.4,520.8 172.8,518.1 173.2,516.0 C173.6,513.9 173.8,513.3 174.3,510.6 C174.8,507.9 175.5,503.1 176.1,499.8 C176.7,496.5 177.3,493.5 177.9,490.8 C178.5,488.1 179.0,485.9 179.7,483.8 C180.3,481.7 181.0,479.9 181.8,478.0 C182.6,476.1 183.4,474.6 184.6,472.3 C185.8,470.0 187.6,466.8 189.1,464.3 C190.6,461.8 192.2,459.5 193.7,457.4 C195.2,455.3 196.8,453.2 198.3,451.7 C199.8,450.2 201.3,449.2 202.8,448.5 C204.3,447.8 205.7,447.9 207.4,447.7 C209.1,447.5 211.4,447.0 213.1,447.1 C214.8,447.2 216.5,447.8 217.7,448.1 C218.9,448.4 219.4,448.6 220.5,448.8 C221.6,449.0 222.7,449.4 224.0,449.3 C225.3,449.2 226.8,448.6 228.1,448.3 C229.4,448.0 230.9,448.0 232.1,447.3 C233.3,446.6 234.2,445.6 235.2,444.3 C236.2,443.0 237.0,440.9 238.2,439.5 C239.4,438.1 240.7,437.0 242.2,436.2 C243.7,435.4 245.6,435.2 247.3,434.7 C249.0,434.2 250.7,433.8 252.4,433.2 C254.1,432.6 255.7,431.8 257.4,431.1 C259.1,430.5 261.2,429.7 262.5,429.3 C263.8,428.9 263.8,429.2 265.1,428.9 C266.4,428.6 268.4,427.8 270.1,427.3 C271.8,426.8 273.8,426.4 275.2,426.1 C276.6,425.8 277.8,425.2 278.7,425.3 C279.6,425.4 279.9,426.5 280.7,426.6 C281.5,426.7 282.0,426.4 283.3,426.1 C284.6,425.9 286.6,425.3 288.3,425.1 C290.0,424.9 291.7,425.0 293.4,424.9 C295.1,424.8 296.5,424.7 298.4,424.6 C300.3,424.5 303.1,424.3 305.0,424.3 C306.9,424.3 308.4,424.4 310.1,424.6 C311.8,424.8 313.5,425.0 315.2,425.3 C316.9,425.6 318.5,426.1 320.2,426.6 C321.9,427.1 323.6,427.7 325.3,428.1 C327.0,428.5 328.6,428.8 330.3,428.9 C332.0,429.0 333.8,428.6 335.4,428.8 C337.0,429.0 338.5,429.6 340.2,430.2 C341.9,430.8 343.8,431.5 345.6,432.5 C347.4,433.5 349.3,434.9 351.2,436.0 C353.1,437.1 355.0,438.3 356.9,439.3 C358.8,440.3 360.6,441.2 362.5,442.2 C364.4,443.1 366.2,443.9 368.1,445.0 C370.0,446.1 371.8,447.6 373.7,448.9 C375.6,450.2 377.4,451.4 379.3,452.8 C381.2,454.2 383.8,456.1 384.9,457.3 C386.0,458.5 385.8,459.4 386.2,460.2 C386.6,461.0 386.8,461.6 387.6,462.0 C388.4,462.4 389.6,462.4 391.2,462.9 C392.8,463.3 395.3,463.9 397.4,464.7 C399.4,465.5 401.4,466.6 403.5,467.8 C405.6,469.0 407.6,470.7 409.7,472.1 C411.8,473.6 413.8,475.1 415.9,476.5 C418.0,477.9 420.0,479.3 422.1,480.8 C424.2,482.3 426.2,484.1 428.3,485.7 C430.4,487.2 433.6,489.2 435.0,490.1 C436.4,491.0 436.7,491.0 437.0,491.2" stroke="#0000ff" stroke-width="2.2" fill="none" stroke-linejoin="round" stroke-linecap="round"/>
</g>
<rect x="35.6" y="422.5" width="400.4" height="320.4" stroke="#000" stroke-width="1.7" fill="none"/>
<path d="M34.6,742.9 H437.0" stroke="#000" stroke-width="2.2" fill="none"/>
<path d="M52.00,742.9 V753.4 M73.34,742.9 V748.4 M94.68,742.9 V753.4 M116.02,742.9 V748.4 M137.36,742.9 V753.4 M158.70,742.9 V748.4 M180.04,742.9 V753.4 M201.38,742.9 V748.4 M222.72,742.9 V753.4 M244.06,742.9 V748.4 M265.40,742.9 V753.4 M286.74,742.9 V748.4 M308.08,742.9 V753.4 M329.42,742.9 V748.4 M350.76,742.9 V753.4 M372.10,742.9 V748.4 M393.44,742.9 V753.4 M414.78,742.9 V748.4 M436.12,742.9 V753.4" stroke="#000" stroke-width="1.7" fill="none"/>
<text transform="translate(38.80,350.00) scale(0.792,1)" font-family="Liberation Serif" font-weight="bold" stroke="#000" stroke-width="0.25" font-size="15.20" text-anchor="end" >80</text>
<text transform="translate(38.80,317.10) scale(0.792,1)" font-family="Liberation Serif" font-weight="bold" stroke="#000" stroke-width="0.25" font-size="15.20" text-anchor="end" >82</text>
<text transform="translate(38.80,284.20) scale(0.792,1)" font-family="Liberation Serif" font-weight="bold" stroke="#000" stroke-width="0.25" font-size="15.20" text-anchor="end" >84</text>
<text transform="translate(38.80,251.30) scale(0.792,1)" font-family="Liberation Serif" font-weight="bold" stroke="#000" stroke-width="0.25" font-size="15.20" text-anchor="end" >86</text>
<text transform="translate(38.80,218.40) scale(0.792,1)" font-family="Liberation Serif" font-weight="bold" stroke="#000" stroke-width="0.25" font-size="15.20" text-anchor="end" >88</text>
<text transform="translate(38.80,185.50) scale(0.792,1)" font-family="Liberation Serif" font-weight="bold" stroke="#000" stroke-width="0.25" font-size="15.20" text-anchor="end" >90</text>
<text transform="translate(38.80,152.60) scale(0.792,1)" font-family="Liberation Serif" font-weight="bold" stroke="#000" stroke-width="0.25" font-size="15.20" text-anchor="end" >92</text>
<text transform="translate(38.80,119.70) scale(0.792,1)" font-family="Liberation Serif" font-weight="bold" stroke="#000" stroke-width="0.25" font-size="15.20" text-anchor="end" >94</text>
<text transform="translate(38.80,86.80) scale(0.792,1)" font-family="Liberation Serif" font-weight="bold" stroke="#000" stroke-width="0.25" font-size="15.20" text-anchor="end" >96</text>
<text transform="translate(38.80,53.90) scale(0.792,1)" font-family="Liberation Serif" font-weight="bold" stroke="#000" stroke-width="0.25" font-size="15.20" text-anchor="end" >98</text>
<text transform="translate(38.80,21.00) scale(0.792,1)" font-family="Liberation Serif" font-weight="bold" stroke="#000" stroke-width="0.25" font-size="15.20" text-anchor="end" >100</text>
<text transform="translate(58.30,363.80) scale(0.792,1)" font-family="Liberation Serif" font-weight="bold" stroke="#000" stroke-width="0.25" font-size="15.20" text-anchor="middle" >50</text>
<text transform="translate(100.08,363.80) scale(0.792,1)" font-family="Liberation Serif" font-weight="bold" stroke="#000" stroke-width="0.25" font-size="15.20" text-anchor="middle" >100</text>
<text transform="translate(141.86,363.80) scale(0.792,1)" font-family="Liberation Serif" font-weight="bold" stroke="#000" stroke-width="0.25" font-size="15.20" text-anchor="middle" >150</text>
<text transform="translate(183.64,363.80) scale(0.792,1)" font-family="Liberation Serif" font-weight="bold" stroke="#000" stroke-width="0.25" font-size="15.20" text-anchor="middle" >200</text>
<text transform="translate(225.42,363.80) scale(0.792,1)" font-family="Liberation Serif" font-weight="bold" stroke="#000" stroke-width="0.25" font-size="15.20" text-anchor="middle" >250</text>
<text transform="translate(267.20,363.80) scale(0.792,1)" font-family="Liberation Serif" font-weight="bold" stroke="#000" stroke-width="0.25" font-size="15.20" text-anchor="middle" >300</text>
<text transform="translate(308.98,363.80) scale(0.792,1)" font-family="Liberation Serif" font-weight="bold" stroke="#000" stroke-width="0.25" font-size="15.20" text-anchor="middle" >350</text>
<text transform="translate(350.76,363.80) scale(0.792,1)" font-family="Liberation Serif" font-weight="bold" stroke="#000" stroke-width="0.25" font-size="15.20" text-anchor="middle" >400</text>
<text transform="translate(392.54,363.80) scale(0.792,1)" font-family="Liberation Serif" font-weight="bold" stroke="#000" stroke-width="0.25" font-size="15.20" text-anchor="middle" >450</text>
<text transform="translate(434.32,363.80) scale(0.792,1)" font-family="Liberation Serif" font-weight="bold" stroke="#000" stroke-width="0.25" font-size="15.20" text-anchor="middle" >500</text>
<text transform="translate(52.00,768.80) scale(0.792,1)" font-family="Liberation Serif" font-weight="bold" stroke="#000" stroke-width="0.25" font-size="15.20" text-anchor="middle" >50</text>
<text transform="translate(94.68,768.80) scale(0.792,1)" font-family="Liberation Serif" font-weight="bold" stroke="#000" stroke-width="0.25" font-size="15.20" text-anchor="middle" >100</text>
<text transform="translate(137.36,768.80) scale(0.792,1)" font-family="Liberation Serif" font-weight="bold" stroke="#000" stroke-width="0.25" font-size="15.20" text-anchor="middle" >150</text>
<text transform="translate(180.04,768.80) scale(0.792,1)" font-family="Liberation Serif" font-weight="bold" stroke="#000" stroke-width="0.25" font-size="15.20" text-anchor="middle" >200</text>
<text transform="translate(222.72,768.80) scale(0.792,1)" font-family="Liberation Serif" font-weight="bold" stroke="#000" stroke-width="0.25" font-size="15.20" text-anchor="middle" >250</text>
<text transform="translate(265.40,768.80) scale(0.792,1)" font-family="Liberation Serif" font-weight="bold" stroke="#000" stroke-width="0.25" font-size="15.20" text-anchor="middle" >300</text>
<text transform="translate(308.08,768.80) scale(0.792,1)" font-family="Liberation Serif" font-weight="bold" stroke="#000" stroke-width="0.25" font-size="15.20" text-anchor="middle" >350</text>
<text transform="translate(350.76,768.80) scale(0.792,1)" font-family="Liberation Serif" font-weight="bold" stroke="#000" stroke-width="0.25" font-size="15.20" text-anchor="middle" >400</text>
<text transform="translate(393.44,768.80) scale(0.792,1)" font-family="Liberation Serif" font-weight="bold" stroke="#000" stroke-width="0.25" font-size="15.20" text-anchor="middle" >450</text>
<text transform="translate(436.12,768.80) scale(0.792,1)" font-family="Liberation Serif" font-weight="bold" stroke="#000" stroke-width="0.25" font-size="15.20" text-anchor="middle" >500</text>
<text transform="translate(-0.6,10.2) scale(1,1.1)" font-family="Liberation Serif" font-size="14">(a)</text>
<text transform="translate(0,412.8) scale(1,1.1)" font-family="Liberation Serif" font-size="14">(b)</text>
<text transform="translate(18.4,176.6) rotate(-90) scale(0.82,1)" font-family="Liberation Serif" font-weight="bold" stroke="#000" stroke-width="0.25" font-size="15.2" text-anchor="middle" letter-spacing="1.75">Weight Loss <tspan dx="-2.2">%</tspan></text>
<text transform="translate(24.9,588.2) rotate(-90) scale(0.73,1)" font-family="Liberation Serif" font-weight="bold" stroke="#000" stroke-width="0.25" font-size="15.2" text-anchor="middle" letter-spacing="2.08">Heat Flow (a.u.)</text>
<text transform="translate(201.10,379.90) scale(0.860,1)" font-family="Liberation Serif" font-weight="bold" stroke="#000" stroke-width="0.25" font-size="14">Temperature (<tspan dy="-5.5" font-size="9">0</tspan><tspan dy="5.5">C)</tspan></text>
<text transform="translate(196.00,784.70) scale(0.915,1)" font-family="Liberation Serif" font-weight="bold" stroke="#000" stroke-width="0.25" font-size="14">Temperature (<tspan dy="-5.5" font-size="9">0</tspan><tspan dy="5.5">C)</tspan></text>
<path d="M85.0,193.1 H117.6" stroke="#ff00ff" stroke-width="1.6"/><text transform="translate(120.40,199.10) scale(0.844,1)" font-family="Liberation Serif" font-weight="bold" stroke="#000" stroke-width="0.25" font-size="14.50" text-anchor="start" >6CDP/1SDP/3ZrO<tspan dy="5" font-size="14">2</tspan></text>
<path d="M85.0,215.7 H117.6" stroke="#00f800" stroke-width="1.6"/><text transform="translate(120.40,221.70) scale(0.844,1)" font-family="Liberation Serif" font-weight="bold" stroke="#000" stroke-width="0.25" font-size="14.50" text-anchor="start" >6CDP/3SDP/1ZrO<tspan dy="5" font-size="14">2</tspan></text>
<path d="M85.0,239.8 H117.6" stroke="#0000ff" stroke-width="1.6"/><text transform="translate(120.40,245.80) scale(0.844,1)" font-family="Liberation Serif" font-weight="bold" stroke="#000" stroke-width="0.25" font-size="14.50" text-anchor="start" >6CDP/2SDP/2ZrO<tspan dy="5" font-size="14">2</tspan></text>
<path d="M85.0,260.8 H117.6" stroke="#ff0000" stroke-width="1.6"/><text transform="translate(120.40,266.80) scale(0.844,1)" font-family="Liberation Serif" font-weight="bold" stroke="#000" stroke-width="0.25" font-size="14.50" text-anchor="start" >8CDP/1SDP/1ZrO<tspan dy="5" font-size="14">2</tspan></text>
<path d="M85.0,283.3 H117.6" stroke="#000000" stroke-width="1.6"/><text transform="translate(120.40,288.70) scale(0.844,1)" font-family="Liberation Serif" font-weight="bold" stroke="#000" stroke-width="0.25" font-size="14.50" text-anchor="start" >CDP</text>
<path d="M85.0,301.4 H117.6" stroke="#048004" stroke-width="1.6"/><text transform="translate(120.40,306.80) scale(0.844,1)" font-family="Liberation Serif" font-weight="bold" stroke="#000" stroke-width="0.25" font-size="14.50" text-anchor="start" >SDP</text>
<path d="M240.2,618.0 H274.6" stroke="#0000ff" stroke-width="2.1"/><text transform="translate(277.60,623.00) scale(0.872,1)" font-family="Liberation Serif" font-weight="bold" stroke="#000" stroke-width="0.25" font-size="14.50" text-anchor="start" >6CDP/3SDP/1ZrO<tspan dy="5" font-size="14">2</tspan></text>
<path d="M240.2,650.2 H274.6" stroke="#00f800" stroke-width="2.1"/><text transform="translate(277.60,655.20) scale(0.872,1)" font-family="Liberation Serif" font-weight="bold" stroke="#000" stroke-width="0.25" font-size="14.50" text-anchor="start" >6CDP/2SDP/2ZrO<tspan dy="5" font-size="14">2</tspan></text>
<path d="M240.2,680.3 H274.6" stroke="#ff00ff" stroke-width="2.1"/><text transform="translate(277.60,685.30) scale(0.872,1)" font-family="Liberation Serif" font-weight="bold" stroke="#000" stroke-width="0.25" font-size="14.50" text-anchor="start" >6CDP/1SDP/3ZrO<tspan dy="5" font-size="14">2</tspan></text>
<path d="M240.2,707.8 H274.6" stroke="#ff0000" stroke-width="2.1"/><text transform="translate(277.60,712.80) scale(0.872,1)" font-family="Liberation Serif" font-weight="bold" stroke="#000" stroke-width="0.25" font-size="14.50" text-anchor="start" >8CDP/1SDP/1ZrO<tspan dy="5" font-size="14">2</tspan></text>
<path d="M93.0,681.9 H127.2" stroke="#000000" stroke-width="2.1"/><text transform="translate(129.90,687.30) scale(0.872,1)" font-family="Liberation Serif" font-weight="bold" stroke="#000" stroke-width="0.25" font-size="14.50" text-anchor="start" >CDP</text>
<path d="M93.0,707.7 H127.2" stroke="#80ffff" stroke-width="2.1"/><text transform="translate(129.90,713.10) scale(0.872,1)" font-family="Liberation Serif" font-weight="bold" stroke="#000" stroke-width="0.25" font-size="14.50" text-anchor="start" >SDP</text>
</svg>
</body></html>
